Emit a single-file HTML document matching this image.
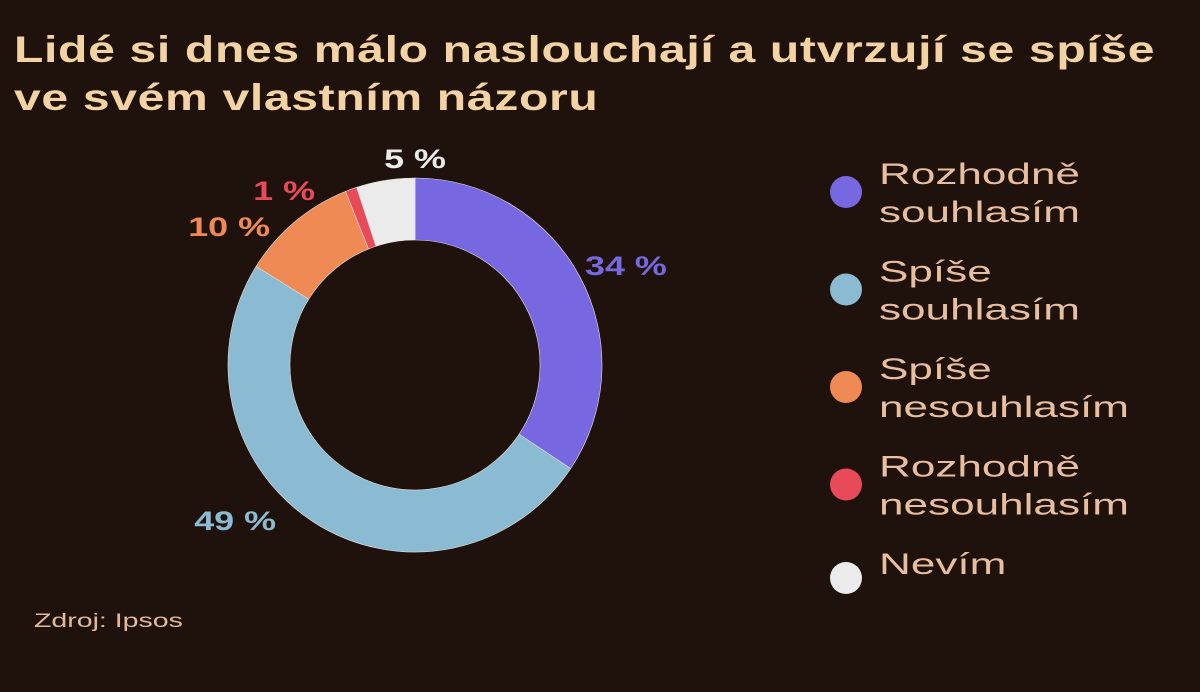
<!DOCTYPE html>
<html><head><meta charset="utf-8"><style>
body{margin:0;width:1200px;height:692px;background:#1f110b;overflow:hidden;font-family:"Liberation Sans",sans-serif}
#title{position:absolute;left:14px;top:26px;margin:0;font-size:37px;line-height:48px;font-weight:bold;color:#f3d3a3;letter-spacing:0.5px;transform:scaleX(1.3);transform-origin:0 0;white-space:nowrap}
#src{position:absolute;left:34px;top:611px;font-size:19px;color:#e4b99a;transform:scaleX(1.5);transform-origin:0 0;white-space:nowrap}
</style></head><body>
<h1 id="title">Lidé si dnes málo naslouchají a utvrzují se spíše<br>ve svém vlastním názoru</h1>
<svg id="chart" width="1200" height="692" style="position:absolute;left:0;top:0"></svg>
<div id="src">Zdroj: Ipsos</div>
<script>
const categories=["Rozhodně souhlasím","Spíše souhlasím","Spíše nesouhlasím","Rozhodně nesouhlasím","Nevím"];
const legendLines=[["Rozhodně","souhlasím"],["Spíše","souhlasím"],["Spíše","nesouhlasím"],["Rozhodně","nesouhlasím"],["Nevím"]];
const values=[34,49,10,1,5];
const valueLabels=["34 %","49 %","10 %","1 %","5 %"];
const colors=["#7767e0","#8bbad3","#ef8a54","#e84a5a","#ebebeb"];
const NS="http://www.w3.org/2000/svg";
const svg=document.getElementById('chart');
const cx=415,cy=365,R=187,r=125;
const total=values.reduce((a,b)=>a+b,0);
function pt(a,rad){return [cx+rad*Math.sin(a),cy-rad*Math.cos(a)];}
let acc=0;
const labelPos=[[585,265,"start"],[276,520,"end"],[270,226,"end"],[315,190,"end"],[415,158,"middle"]];
values.forEach((v,i)=>{
  const a0=acc/total*2*Math.PI; acc+=v; const a1=acc/total*2*Math.PI;
  const large=(a1-a0)>Math.PI?1:0;
  const p0=pt(a0,R),p1=pt(a1,R),q1=pt(a1,r),q0=pt(a0,r);
  const p=document.createElementNS(NS,'path');
  p.setAttribute('d',`M${p0} A${R},${R} 0 ${large} 1 ${p1} L${q1} A${r},${r} 0 ${large} 0 ${q0} Z`);
  p.setAttribute('fill',colors[i]);p.setAttribute('stroke','#e8e0d8');p.setAttribute('stroke-width','0.6');
  
  
  svg.appendChild(p);
  const [lx,ly,anc]=labelPos[i];
  const t=document.createElementNS(NS,'text');
  t.setAttribute('x',0);t.setAttribute('y',0);t.setAttribute('text-anchor',anc);
  t.setAttribute('transform',`translate(${lx},${ly+10}) scale(1.33,1)`);
  t.setAttribute('fill',colors[i]);t.setAttribute('font-size','27');t.setAttribute('font-weight','bold');
  t.setAttribute('font-family','Liberation Sans, sans-serif');
  t.textContent=valueLabels[i];
  
  
  svg.appendChild(t);
});
legendLines.forEach((lines,i)=>{
  const y0=172+i*97.5;
  const c=document.createElementNS(NS,'circle');
  c.setAttribute('cx',846);c.setAttribute('cy',i==4?y0+16:y0+20);c.setAttribute('r',16);c.setAttribute('fill',colors[i]);
  
  
  svg.appendChild(c);
  lines.forEach((s,j)=>{
    const t=document.createElementNS(NS,'text');
    t.setAttribute('x',0);t.setAttribute('y',0);
    t.setAttribute('transform',`translate(879,${y0+12+j*38}) scale(1.47,1)`);
    t.setAttribute('fill','#e8bea0');t.setAttribute('font-size','30');
    t.setAttribute('font-family','Liberation Sans, sans-serif');
    t.textContent=s;
    
    
    svg.appendChild(t);
  });
});
</script>
</body></html>
